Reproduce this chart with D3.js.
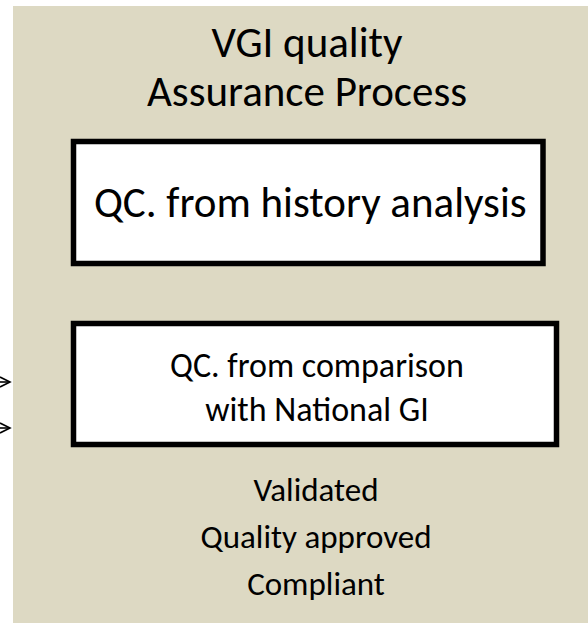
<!DOCTYPE html>
<html>
<head>
<meta charset="utf-8">
<script src="https://cdn.jsdelivr.net/npm/d3@7"></script>
<style>
  body { margin: 0; background: #fff; }
  text { font-family: Carlito, Calibri, "Open Sans", sans-serif; fill: #000; }
</style>
</head>
<body>
<script>
// diagram text, top to bottom
var titleLines = ["VGI quality", "Assurance Process"];
var boxes = [
  ["QC. from history analysis"],
  ["QC. from comparison", "with National GI"]
];
var outputs = ["Validated", "Quality approved", "Compliant"];
var arrowRows = [0, 1]; // two incoming arrows on the left

var W = 588, H = 623;
var svg = d3.select("body").append("svg").attr("width", W).attr("height", H);

// tan panel
svg.append("rect").attr("x", 13).attr("y", 6).attr("width", W - 13).attr("height", H - 6)
  .attr("fill", "#ddd9c3");

var titleY = d3.scalePoint().domain(titleLines).range([57, 106]);
svg.selectAll("text.title").data(titleLines).enter().append("text")
  .attr("class", "title")
  .attr("x", 307).attr("y", function(d) { return titleY(d); })
  .attr("text-anchor", "middle").style("font-size", "43px")
  .text(function(d) { return d; });

var boxGeom = [
  {x0: 73.5, x1: 543, y0: 141.5, y1: 263.5, size: 43, base: [217]},
  {x0: 73.5, x1: 556.5, y0: 323.5, y1: 444.5, size: 34, base: [377, 421]}
];
svg.selectAll("rect.box").data(boxGeom).enter().append("rect")
  .attr("class", "box")
  .attr("x", function(d) { return d.x0; })
  .attr("y", function(d) { return d.y0; })
  .attr("width", function(d) { return d.x1 - d.x0; })
  .attr("height", function(d) { return d.y1 - d.y0; })
  .attr("fill", "#fff").attr("stroke", "#000").attr("stroke-width", 5.5);

boxes.forEach(function(lines, i) {
  var g = boxGeom[i];
  svg.selectAll("text.b" + i).data(lines).enter().append("text")
    .attr("class", "b" + i)
    .attr("x", (g.x0 + g.x1) / 2 + 2)
    .attr("y", function(d, j) { return g.base[j]; })
    .attr("text-anchor", "middle").style("font-size", g.size + "px")
    .text(function(d) { return d; });
});

var outY = d3.scalePoint().domain(outputs).range([501, 595]);
svg.selectAll("text.out").data(outputs).enter().append("text")
  .attr("class", "out")
  .attr("x", 316).attr("y", function(d) { return outY(d); })
  .attr("text-anchor", "middle").style("font-size", "33px")
  .text(function(d) { return d; });

// arrows entering from the left edge
var arrowY = d3.scaleLinear().domain([0, 1]).range([382, 428]);
arrowRows.forEach(function(r) {
  var y = arrowY(r);
  svg.append("line").attr("x1", 0).attr("x2", 10).attr("y1", y).attr("y2", y)
    .attr("stroke", "#000").attr("stroke-width", 1.6);
  svg.append("path").attr("d", "M0," + (y - 5) + "L10," + y + "L0," + (y + 5))
    .attr("fill", "none").attr("stroke", "#000").attr("stroke-width", 1.6);
});
</script>
</body>
</html>
